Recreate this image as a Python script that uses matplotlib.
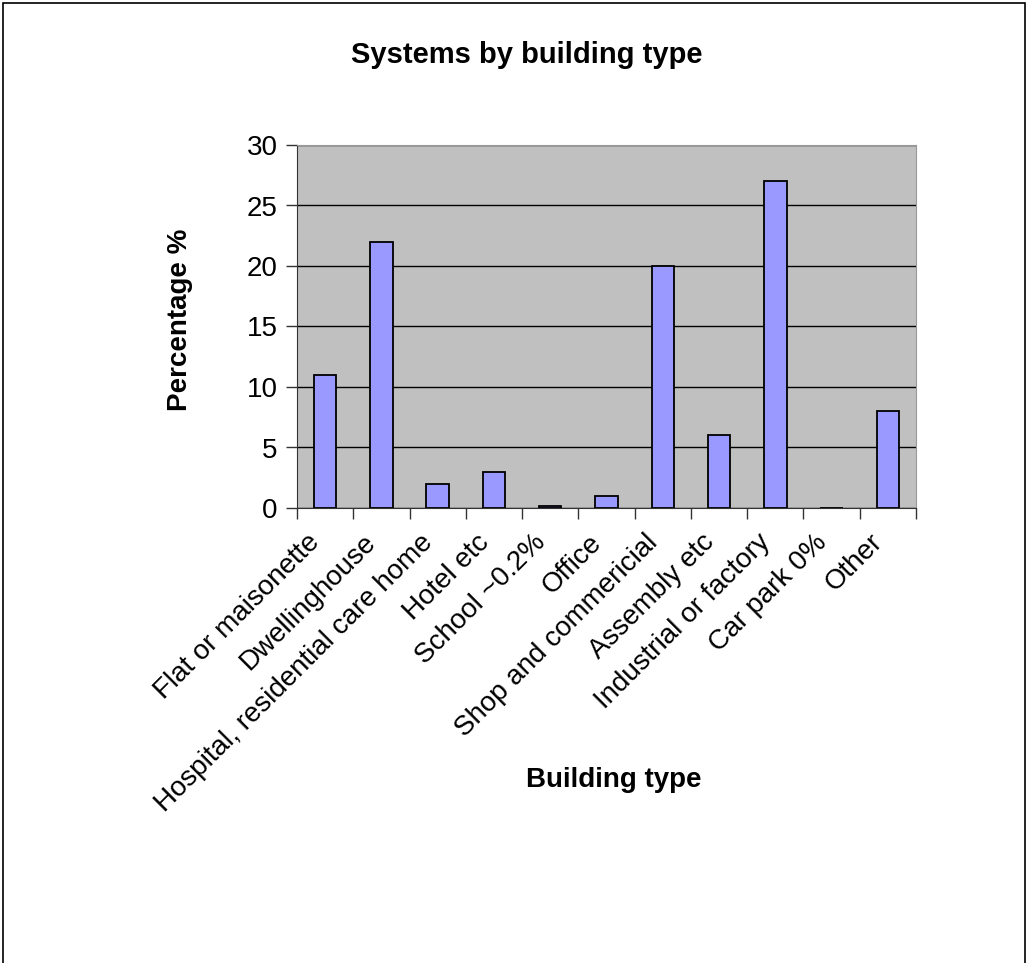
import matplotlib.pyplot as plt
import matplotlib.transforms as mtransforms
import numpy as np
from matplotlib.patches import Rectangle

plt.rcParams['font.family'] = ['Liberation Sans', 'DejaVu Sans']

# data
building_types = ['Flat or maisonette', 'Dwellinghouse', 'Hospital, residential care home',
                  'Hotel etc', 'School ~0.2%', 'Office', 'Shop and commericial',
                  'Assembly etc', 'Industrial or factory', 'Car park 0%', 'Other']
percentages = [11, 22, 2, 3, 0.2, 1, 20, 6, 27, 0, 8]
y_ticks = [0, 5, 10, 15, 20, 25, 30]

W, H = 1029, 963
fig = plt.figure(figsize=(W / 100, H / 100), dpi=100)
fig.patch.set_facecolor('white')

# chart border (bottom edge runs off the image)
fig.patches.append(Rectangle((3 / W, -0.05), 1022 / W, 1.05 - 3 / H, transform=fig.transFigure,
                             fill=False, edgecolor='black', linewidth=1.2))

ax = fig.add_axes([297 / W, 1 - 508 / H, 619 / W, 363 / H])
ax.set_facecolor('#C0C0C0')

x = np.arange(len(building_types))
ax.bar(x, percentages, width=0.4, color='#9999FF', edgecolor='black', linewidth=1.3, zorder=3)

ax.set_xlim(-0.5, len(building_types) - 0.5)
ax.set_ylim(0, 30)
ax.set_yticks(y_ticks)
ax.yaxis.grid(True, color='black', linewidth=1.0, zorder=1)
ax.set_axisbelow(True)

# category ticks between bars, like Excel
ax.set_xticks(np.arange(len(building_types) + 1) - 0.5)
ax.set_xticklabels([])
ax.set_xticks(x, minor=True)
ax.set_xticklabels(building_types, minor=True, rotation=45, ha='right', va='center',
                   rotation_mode='anchor', fontsize=20)
ax.tick_params(axis='x', which='minor', length=0, pad=22)
ax.tick_params(axis='x', which='major', length=8, width=1, color='#333333', direction='out')
ax.tick_params(axis='y', length=8, width=1, color='#333333', labelsize=20, pad=6)

# nudge rotated labels a little left of the bar centres
shift = mtransforms.ScaledTranslation(-0.09, 0, fig.dpi_scale_trans)
for lbl in ax.get_xticklabels(minor=True):
    lbl.set_transform(lbl.get_transform() + shift)

ax.spines['left'].set_color('#333333')
ax.spines['bottom'].set_color('#333333')
ax.spines['right'].set_color('#999999')
ax.spines['top'].set_color('#999999')

fig.text(527 / W, 1 - 55 / H, 'Systems by building type', ha='center', va='center',
         fontsize=21, fontweight='bold')
fig.text(180 / W, 1 - 320 / H, 'Percentage %', ha='center', va='center', rotation=90,
         fontsize=20, fontweight='bold')
fig.text(614 / W, 1 - 780 / H, 'Building type', ha='center', va='center',
         fontsize=20, fontweight='bold')

plt.savefig('out.png', dpi=100)
